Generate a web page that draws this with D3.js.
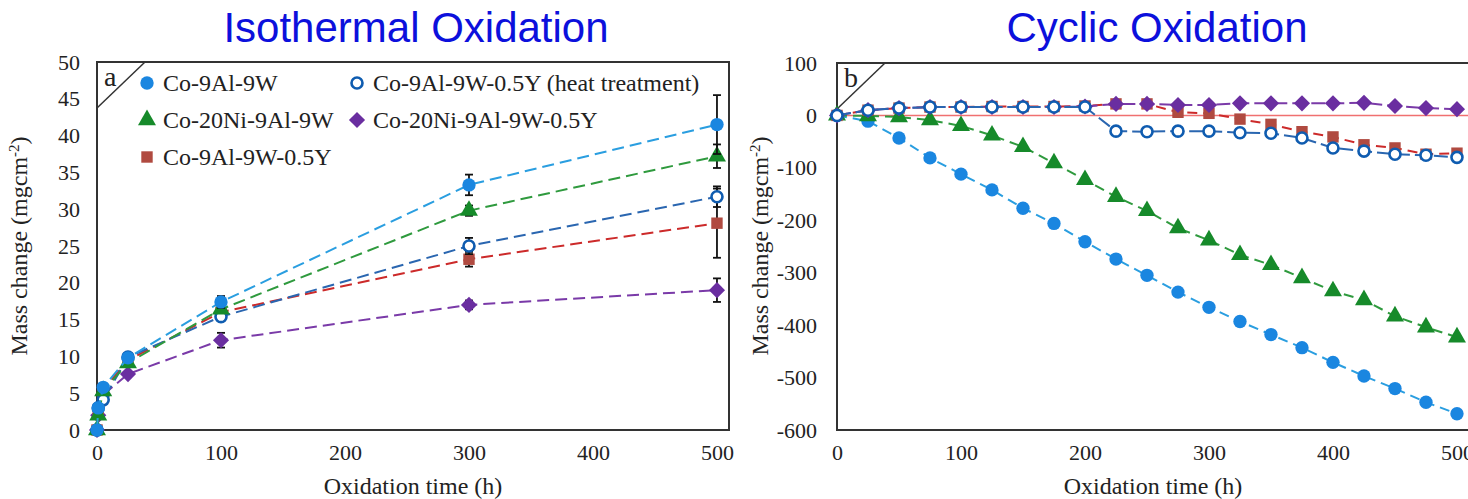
<!DOCTYPE html>
<html>
<head>
<meta charset="utf-8">
<script src="https://cdn.jsdelivr.net/npm/d3@7"></script>
<style>
  body { margin: 0; background: #fff; }
  svg text { font-family: "Liberation Serif", "DejaVu Serif", serif; fill: #222; }
  .title { font-family: "Liberation Sans", Arial, sans-serif !important; fill: #0c10dc !important; }
</style>
</head>
<body>
<div id="d3-container"></div>
<script>
// ---- data: isothermal oxidation (panel a) ----
const isoTimes = [0, 1, 5, 25, 100, 300, 500];
const isoCo9Al9W = [0, 3, 5.8, 9.8, 17.4, 33.3, 41.5];
const isoCo20Ni = [0, 2, 5.3, 9.1, 16.4, 29.8, 37.2];
const isoCo05Y = [0, 2.5, 5.5, 9.5, 16.0, 23.2, 28.1];
const isoCo20Ni05Y = [0, 2, 4.8, 7.6, 12.2, 17.0, 19.0];
const isoHeat = [0, 3, 4.1, 9.9, 15.4, 25.0, 31.7];
// error bar half widths (only at 100, 300, 500 h)
const errCo9Al9W = [0, 0, 0, 0, 0.8, 1.4, 4.0];
const errCo20Ni = [0, 0, 0, 0, 0.5, 0.7, 1.6];
const errCo05Y = [0, 0, 0, 0, 0.5, 1.0, 4.7];
const errCo20Ni05Y = [0, 0, 0, 0, 1.0, 0.6, 1.6];
const errHeat = [0, 0, 0, 0, 0.5, 1.1, 1.4];

// ---- data: cyclic oxidation (panel b) ----
const cycTimes = [0, 25, 50, 75, 100, 125, 150, 175, 200, 225, 250, 275, 300, 325, 350, 375, 400, 425, 450, 475, 500];
const cycCo9Al9W = [0, -11, -43, -81, -112, -142, -177, -206, -241, -274, -305, -337, -366, -393, -418, -443, -471, -497, -521, -547, -569];
const cycCo20Ni = [0, -1, -3, -9, -20, -38, -60, -91, -123, -155, -182, -215, -238, -266, -285, -310, -335, -352, -383, -404, -423];
const cycCo05Y = [0, 10, 14, 16, 16, 17, 17, 17, 18, 22, 22, 6, 4, -7, -17, -31, -41, -56, -62, -74, -72];
const cycCo20Ni05Y = [0, 10, 14, 16, 16, 16, 16, 16, 17, 22, 22, 20, 20, 23, 23, 23, 23, 24, 18, 14, 12];
const cycHeat = [0, 10, 14, 16, 16, 16, 16, 16, 16, -30, -31, -30, -30, -33, -34, -43, -62, -68, -74, -76, -80];

const xTicks = [0, 100, 200, 300, 400, 500];
const isoYTicks = [0, 5, 10, 15, 20, 25, 30, 35, 40, 45, 50];
const cycYTicks = [100, 0, -100, -200, -300, -400, -500, -600];

// square diamond (square turned 45 degrees)
const symbolRhomb = {
  draw(ctx, size) {
    const r = Math.sqrt(size / 2);
    ctx.moveTo(0, -r);
    ctx.lineTo(r, 0);
    ctx.lineTo(0, r);
    ctx.lineTo(-r, 0);
    ctx.closePath();
  }
};

// series styles
const styles = {
  Co9Al9W:   { name: "Co-9Al-9W", symbol: d3.symbolCircle, size: 140, fill: "#1a86e0", stroke: "none", line: "#2a9ee0" },
  Co20Ni:    { name: "Co-20Ni-9Al-9W", symbol: d3.symbolTriangle, size: 140, fill: "#168a2a", stroke: "none", line: "#2f9a3e" },
  Co05Y:     { name: "Co-9Al-9W-0.5Y", symbol: d3.symbolSquare, size: 130, fill: "#b04a40", stroke: "none", line: "#cc2a2a" },
  Co20Ni05Y: { name: "Co-20Ni-9Al-9W-0.5Y", symbol: symbolRhomb, size: 130, fill: "#6a2ea0", stroke: "none", line: "#7a3aa8" },
  Heat:      { name: "Co-9Al-9W-0.5Y (heat treatment)", symbol: d3.symbolCircle, size: 95, fill: "#fff", stroke: "#0f5cb0", line: "#2a66b0" }
};

const width = 1468;
const height = 499;

const svg = d3.select("#d3-container")
  .append("svg")
  .attr("width", width)
  .attr("height", height);

function drawPanel(p) {
  const g = svg.append("g");

  // title
  g.append("text")
    .attr("class", "title")
    .attr("x", p.titleX)
    .attr("y", 42)
    .attr("text-anchor", "middle")
    .style("font-size", "42px")
    .text(p.title);

  // y axis ticks (plain hyphen for negatives, like the original)
  const yAxis = d3.axisLeft(p.y).tickValues(p.yTicks).tickSize(0).tickPadding(p.yPad)
    .tickFormat(d => String(d));
  g.append("g")
    .attr("transform", `translate(${p.x.range()[0]},0)`)
    .call(yAxis)
    .call(a => a.select(".domain").remove())
    .selectAll("text")
    .style("font-size", "22px")
    .attr("fill", "#222");

  // x axis ticks
  const xAxis = d3.axisBottom(p.x).tickValues(xTicks).tickSize(0).tickPadding(14)
    .tickFormat(d => String(d));
  g.append("g")
    .attr("transform", `translate(0,${p.y.range()[0]})`)
    .call(xAxis)
    .call(a => a.select(".domain").remove())
    .selectAll("text")
    .style("font-size", "22px")
    .attr("fill", "#222");

  // frame
  const x0 = p.x.range()[0], x1 = p.x.range()[1];
  const y0 = p.y.range()[1], y1 = p.y.range()[0];
  g.append("rect")
    .attr("x", x0).attr("y", y0)
    .attr("width", x1 - x0).attr("height", y1 - y0)
    .attr("fill", "none")
    .attr("stroke", "#333")
    .attr("stroke-width", 2);

  // zero reference line
  if (p.zeroLine) {
    g.append("line")
      .attr("x1", x0).attr("x2", x1)
      .attr("y1", p.y(0)).attr("y2", p.y(0))
      .attr("stroke", "#f07070")
      .attr("stroke-width", 1.6);
  }

  // panel letter in corner
  g.append("line")
    .attr("x1", x0).attr("y1", y0 + 46)
    .attr("x2", x0 + 48).attr("y2", y0)
    .attr("stroke", "#333").attr("stroke-width", 1.5);
  g.append("text")
    .attr("x", x0 + 7).attr("y", y0 + 24)
    .style("font-size", "28px")
    .text(p.letter);

  // axis labels
  const yl = g.append("text")
    .attr("transform", `translate(${p.yLabelX},246) rotate(-90)`)
    .attr("text-anchor", "middle")
    .style("font-size", "24px");
  yl.append("tspan").text("Mass change (mgcm");
  yl.append("tspan").attr("dy", -8).style("font-size", "15px").text("-2");
  yl.append("tspan").attr("dy", 8).text(")");

  g.append("text")
    .attr("x", (x0 + x1) / 2)
    .attr("y", 494)
    .attr("text-anchor", "middle")
    .style("font-size", "24px")
    .text("Oxidation time (h)");

  const line = d3.line().x(d => p.x(d.t)).y(d => p.y(d.v));

  p.series.forEach(s => {
    const st = styles[s.key];
    const pts = p.times.map((t, i) => ({ t, v: s.values[i], e: s.err ? s.err[i] : 0 }));

    g.append("path")
      .datum(pts)
      .attr("d", line)
      .attr("fill", "none")
      .attr("stroke", st.line)
      .attr("stroke-width", 2)
      .attr("stroke-dasharray", s.dash || "12,6");

    // error bars
    if (s.err) {
      const eb = g.selectAll(null).data(pts.filter(d => d.e > 0)).enter().append("g");
      eb.append("line")
        .attr("x1", d => p.x(d.t)).attr("x2", d => p.x(d.t))
        .attr("y1", d => p.y(d.v - d.e)).attr("y2", d => p.y(d.v + d.e))
        .attr("stroke", "#111").attr("stroke-width", 1.8);
      [-1, 1].forEach(sign => {
        eb.append("line")
          .attr("x1", d => p.x(d.t) - 4).attr("x2", d => p.x(d.t) + 4)
          .attr("y1", d => p.y(d.v + sign * d.e)).attr("y2", d => p.y(d.v + sign * d.e))
          .attr("stroke", "#111").attr("stroke-width", 1.8);
      });
    }

    g.selectAll(null)
      .data(pts)
      .enter()
      .append("path")
      .attr("d", d3.symbol().type(st.symbol).size(st.size))
      .attr("transform", d => `translate(${p.x(d.t)},${p.y(d.v)})`)
      .attr("fill", st.fill)
      .attr("stroke", st.stroke)
      .attr("stroke-width", 2.6);
  });

  return g;
}

// panel a
const panelA = drawPanel({
  title: "Isothermal Oxidation",
  titleX: 416,
  letter: "a",
  x: d3.scaleLinear().domain([0, 509.7]).range([97, 729]),
  y: d3.scaleLinear().domain([0, 50]).range([430, 62]),
  yTicks: isoYTicks,
  yPad: 17,
  yLabelX: 27,
  times: isoTimes,
  series: [
    { key: "Co20Ni05Y", values: isoCo20Ni05Y, err: errCo20Ni05Y },
    { key: "Co05Y", values: isoCo05Y, err: errCo05Y },
    { key: "Heat", values: isoHeat, err: errHeat },
    { key: "Co20Ni", values: isoCo20Ni, err: errCo20Ni },
    { key: "Co9Al9W", values: isoCo9Al9W, err: errCo9Al9W }
  ]
});

// panel b
drawPanel({
  title: "Cyclic Oxidation",
  titleX: 1157,
  letter: "b",
  zeroLine: true,
  x: d3.scaleLinear().domain([0, 509.7]).range([837, 1469]),
  y: d3.scaleLinear().domain([-600, 100]).range([430, 63]),
  yTicks: cycYTicks,
  yPad: 20,
  yLabelX: 768,
  times: cycTimes,
  series: [
    { key: "Co9Al9W", values: cycCo9Al9W, dash: "10,6" },
    { key: "Co20Ni", values: cycCo20Ni, dash: "10,6" },
    { key: "Co05Y", values: cycCo05Y, dash: "10,6" },
    { key: "Co20Ni05Y", values: cycCo20Ni05Y, dash: "14,5" },
    { key: "Heat", values: cycHeat, dash: "14,5" }
  ]
});

// legend (panel a)
const legendRows = [
  { key: "Co9Al9W", x: 147, y: 83 },
  { key: "Heat", x: 357, y: 83 },
  { key: "Co20Ni", x: 147, y: 120 },
  { key: "Co20Ni05Y", x: 357, y: 120 },
  { key: "Co05Y", x: 147, y: 157 }
];

const legendItem = panelA.selectAll(".legend-item")
  .data(legendRows)
  .enter()
  .append("g")
  .attr("class", "legend-item")
  .attr("transform", d => `translate(${d.x},${d.y})`);

legendItem.append("path")
  .attr("d", d => d3.symbol().type(styles[d.key].symbol).size(styles[d.key].size)())
  .attr("fill", d => styles[d.key].fill)
  .attr("stroke", d => styles[d.key].stroke)
  .attr("stroke-width", 2.6);

legendItem.append("text")
  .attr("x", 16)
  .attr("y", 8)
  .style("font-size", "24px")
  .text(d => styles[d.key].name);
</script>
</body>
</html>
